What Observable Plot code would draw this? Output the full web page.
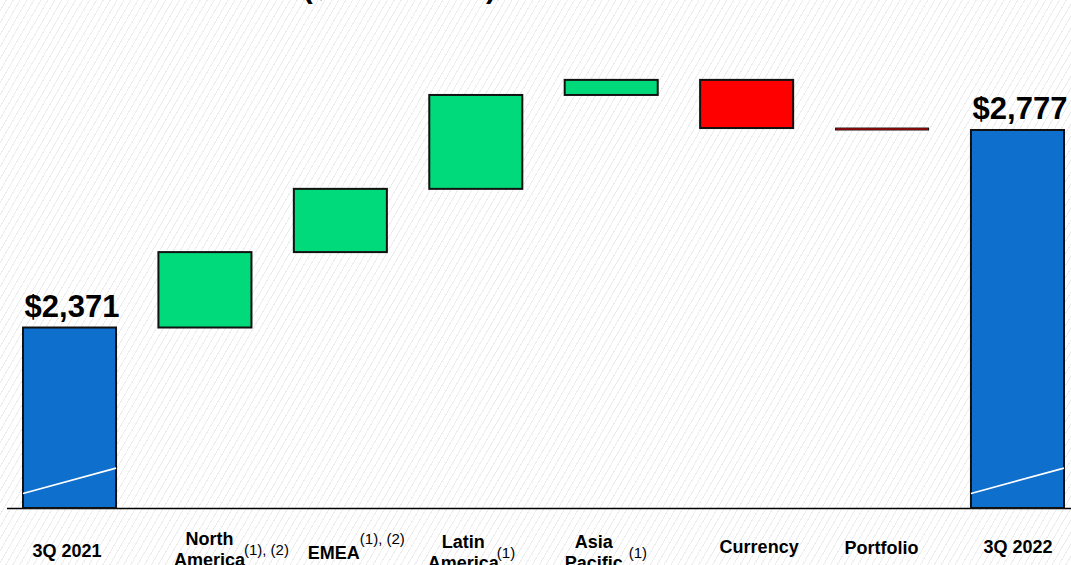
<!DOCTYPE html>
<html>
<head>
<meta charset="utf-8">
<script src="https://cdn.jsdelivr.net/npm/d3@7"></script>
<script src="https://cdn.jsdelivr.net/npm/@observablehq/plot@0.6"></script>
<style>
  html, body { margin: 0; padding: 0; }
  body {
    width: 1071px; height: 565px; overflow: hidden; position: relative;
    font-family: "Liberation Sans", Arial, sans-serif;
    background: repeating-linear-gradient(120deg, #ffffff 0 5px, #ededed 5px 6px);
  }
  #title {
    position: absolute; left: 96px; top: -27px;
    font-size: 30px; line-height: 30px; font-weight: bold; white-space: nowrap; color: #000;
  }
  #chart { position: absolute; left: 0; top: 0; }
  #chart svg { display: block; overflow: visible; }
</style>
</head>
<body>
<div id="title">Net Revenues ($ in millions)</div>
<div id="chart"></div>
<script>
// Bridge categories, left to right
const categories = ["3Q 2021", "North America", "EMEA", "Latin America", "Asia Pacific", "Currency", "Portfolio", "3Q 2022"];
// Axis labels as drawn (line breaks) and their footnote markers
const labelLines = ["3Q 2021", "North\nAmerica", "EMEA", "Latin\nAmerica", "Asia\nPacific", "Currency", "Portfolio", "3Q 2022"];
const footnotes = ["", "(1), (2)", "(1), (2)", "(1)", "(1)", "", "", ""];
// Values ($ millions)
const startValue = 2371;
const changes = [155, 130, 193, 31, -99, -4];   // North America … Portfolio
const endValue = 2777;
// Truncated value axis and its break marker (drawn across the total bars)
const axisFloor = 2000;
const axisCeiling = 3000;
const breakFrom = 2030;
const breakTo = 2082;

// Colours
const palette = {total: "#0f6fcc", up: "#00da7a", down: "#ff0000"};

// Label nudges (px) for the category labels, plus footnote raise and gap
const labelNudge = [
  {dx: -3, dy: 34, raise: 0, gap: 0},
  {dx: 4, dy: 22, raise: -11, gap: -1},
  {dx: -7, dy: 36, raise: -15, gap: 0},
  {dx: -13, dy: 25, raise: -11, gap: -2},
  {dx: -18, dy: 25, raise: -11, gap: 6},
  {dx: 12, dy: 30, raise: 0, gap: 0},
  {dx: -1, dy: 31, raise: 0, gap: 0},
  {dx: 0, dy: 30, raise: 0, gap: 0}
];

// Build the waterfall rows from the running total
const rows = [];
rows.push({cat: categories[0], y1: axisFloor, y2: startValue, kind: "total", value: startValue});
let running = startValue;
changes.forEach((c, i) => {
  rows.push({cat: categories[i + 1], y1: running, y2: running + c, kind: c >= 0 ? "up" : "down", value: c});
  running += c;
});
rows.push({cat: categories[7], y1: axisFloor, y2: endValue, kind: "total", value: endValue});
const totals = rows.filter(d => d.kind === "total");
const fmt = d3.format("$,");

// Category labels: nudge each label and tag it for its footnote
function labelRender(index, scales, values, dims, context, next) {
  const g = next(index, scales, values, dims, context);
  g.classList.add("cat-labels");
  d3.select(g).selectAll("text").each(function (_, k) {
    const i = index[k];
    const n = labelNudge[i];
    const t = this.getAttribute("transform") || "";
    this.setAttribute("transform", `${t} translate(${n.dx},${n.dy})`);
    this.dataset.row = i;
  });
  return g;
}

// White diagonal break marker across the two total bars
function breakRender(index, scales, values, dims) {
  const g = d3.create("svg:g");
  const bw = (scales.scales && scales.scales.x && scales.scales.x.bandwidth) || (scales.x.bandwidth ? scales.x.bandwidth() : 0);
  for (const d of totals) {
    const x0 = scales.x(d.cat);
    g.append("line")
      .attr("x1", x0).attr("x2", x0 + bw)
      .attr("y1", scales.y(breakFrom)).attr("y2", scales.y(breakTo))
      .attr("stroke", "#ffffff").attr("stroke-width", 1.6);
  }
  return g.node();
}

const chart = Plot.plot({
  width: 1071,
  height: 565,
  marginLeft: 23,
  marginRight: 7,
  marginTop: 21.5,
  marginBottom: 57,
  style: {background: "transparent", fontFamily: "'Liberation Sans', Arial, sans-serif", color: "#000", overflow: "visible"},
  x: {domain: categories, paddingInner: 0.313, paddingOuter: 0, round: false, axis: null},
  y: {domain: [axisFloor, axisCeiling], axis: null},
  color: {type: "identity"},
  marks: [
    Plot.ruleY([axisFloor], {stroke: "#000", strokeWidth: 1.3, insetLeft: -16, insetRight: -7}),
    Plot.barY(rows, {
      x: "cat", y1: "y1", y2: "y2",
      fill: d => palette[d.kind],
      stroke: "#111",
      strokeWidth: d => Math.abs(d.y2 - d.y1) < 10 ? 1 : 2
    }),
    Plot.frame({stroke: "none", render: breakRender}),
    Plot.text(totals, {
      x: "cat", y: "y2", text: d => fmt(d.value),
      lineAnchor: "bottom", dy: -11, dx: 2,
      fontSize: 31, fontWeight: "bold", fill: "#000"
    }),
    Plot.text(rows, {
      x: "cat", frameAnchor: "bottom",
      text: (d, i) => labelLines[i],
      lineAnchor: "top", lineHeight: 1.167,
      fontSize: 18, fontWeight: "bold", fill: "#000",
      render: labelRender
    })
  ]
});
document.getElementById("chart").appendChild(chart);

// Superscript footnotes: placed right after the last line of each label
d3.select(chart).selectAll(".cat-labels text").each(function () {
  const i = +this.dataset.row;
  if (!footnotes[i]) return;
  const n = labelNudge[i];
  const spans = this.querySelectorAll("tspan");
  const last = spans.length ? spans[spans.length - 1] : this;
  const half = last.getComputedTextLength() / 2;
  const ts = document.createElementNS("http://www.w3.org/2000/svg", "tspan");
  ts.setAttribute("x", half + n.gap);
  ts.setAttribute("dy", n.raise);
  ts.setAttribute("text-anchor", "start");
  ts.setAttribute("font-size", 15);
  ts.setAttribute("font-weight", "normal");
  ts.textContent = footnotes[i];
  this.appendChild(ts);
});
</script>
</body>
</html>
